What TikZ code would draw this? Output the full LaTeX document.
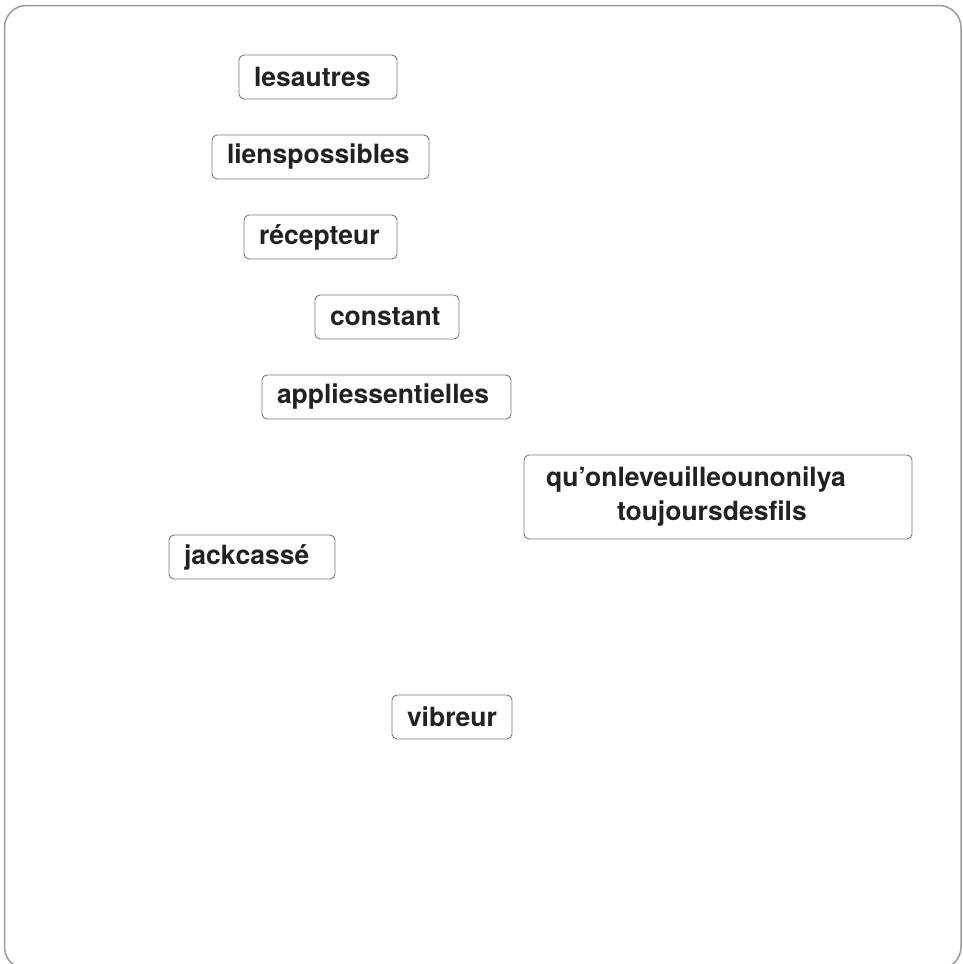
\documentclass[tikz,border=0pt]{standalone}
\usepackage{fontspec}
\setmainfont{TeX Gyre Heros}
\usepackage{tikz}
\usetikzlibrary{positioning}
\definecolor{framegray}{HTML}{9A9A9A}
\definecolor{boxgray}{HTML}{7A7A7A}
\definecolor{inkdark}{HTML}{222222}
\tikzset{
  wordbox/.style={draw=boxgray,line width=0.9pt,rounded corners=5pt,fill=white,
    inner xsep=15pt,inner ysep=0pt,minimum height=44pt,align=left,
    text=inkdark,font=\fontsize{26.5}{34}\selectfont\bfseries},
  frame/.style={draw=framegray,line width=1.5pt,rounded corners=22pt}
}
\begin{document}
\begin{tikzpicture}[x=1pt,y=-1pt]
  \useasboundingbox (0,0) rectangle (962,964);
  \clip (0,0) rectangle (962,964);
  \draw[frame] (4.5,5.5) rectangle (961,969);

  \node[wordbox,text width=128pt] (autres) at (318,77) {lesautres};
  \node[wordbox,text width=187pt] (liens) at (320.5,157) {lienspossibles};
  \node[wordbox,text width=123pt] (recepteur) at (320.5,237) {récepteur};
  \node[wordbox,text width=114pt] (constant) at (387,317) {constant};
  \node[wordbox,text width=219pt] (applis) at (386.5,397) {appliessentielles};
  \node[wordbox,text width=344pt,inner xsep=22pt,minimum height=84pt] (fils) at (718,497)
    {qu’onleveuilleounonilya\\\hspace*{71pt}toujoursdesfils};
  \node[wordbox,text width=136pt] (jack) at (252,557) {jackcassé};
  \node[wordbox,text width=90pt] (vibreur) at (452,717) {vibreur};
\end{tikzpicture}
\end{document}
